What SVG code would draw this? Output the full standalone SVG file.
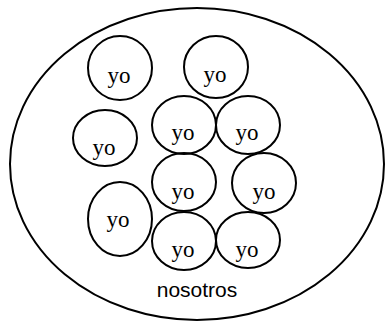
<svg xmlns="http://www.w3.org/2000/svg" width="386" height="327" viewBox="0 0 386 327">
<style>
.c{fill:none;stroke:#000;stroke-width:2}
.t{font-family:"Liberation Serif","Times New Roman",serif;font-size:23px;text-anchor:middle;fill:#000}
.n{font-family:"Liberation Sans",Arial,sans-serif;font-size:21px;text-anchor:middle;fill:#000}
</style>
<rect width="386" height="327" fill="#fff"/>
<g id="nosotros">
<ellipse class="c" cx="197" cy="164" rx="187" ry="156"/>
<text class="n" x="197" y="297">nosotros</text>
</g>
<g id="yo1"><ellipse class="c" cx="120" cy="68" rx="32" ry="32"/><text class="t" x="119" y="83">yo</text></g>
<g id="yo2"><ellipse class="c" cx="216" cy="67" rx="32" ry="31"/><text class="t" x="215" y="82">yo</text></g>
<g id="yo3"><ellipse class="c" cx="105" cy="138" rx="32" ry="28"/><text class="t" x="104" y="155">yo</text></g>
<g id="yo4"><ellipse class="c" cx="184" cy="125" rx="32" ry="29"/><text class="t" x="183" y="140">yo</text></g>
<g id="yo5"><ellipse class="c" cx="248" cy="125" rx="32" ry="29"/><text class="t" x="247" y="140">yo</text></g>
<g id="yo6"><ellipse class="c" cx="184" cy="182" rx="32" ry="29"/><text class="t" x="183" y="199">yo</text></g>
<g id="yo7"><ellipse class="c" cx="264" cy="183" rx="32" ry="30"/><text class="t" x="264" y="199">yo</text></g>
<g id="yo8"><ellipse class="c" cx="120" cy="219" rx="32" ry="37"/><text class="t" x="118" y="227">yo</text></g>
<g id="yo9"><ellipse class="c" cx="184" cy="241" rx="32" ry="29"/><text class="t" x="183" y="257">yo</text></g>
<g id="yo10"><ellipse class="c" cx="248" cy="240" rx="32" ry="28"/><text class="t" x="247" y="257">yo</text></g>
</svg>
